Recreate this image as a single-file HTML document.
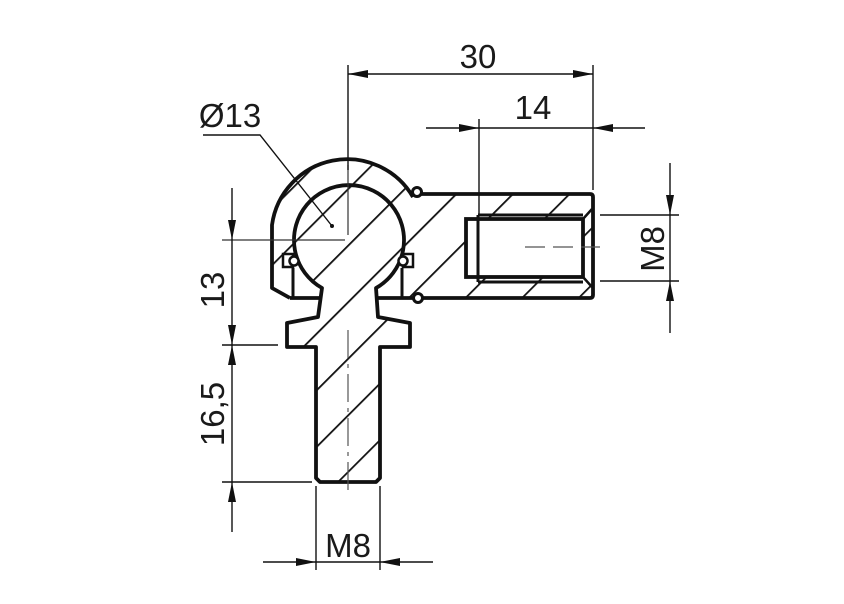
<!DOCTYPE html>
<html><head><meta charset="utf-8"><style>
html,body{margin:0;padding:0;background:#fff}
svg{display:block}
text{font-family:"Liberation Sans",sans-serif;fill:#1a1a1a}
</style></head><body>
<svg width="844" height="604" viewBox="0 0 844 604" xmlns="http://www.w3.org/2000/svg">
<defs>
<pattern id="h" patternUnits="userSpaceOnUse" width="40" height="40" patternTransform="rotate(45)">
<rect x="19" y="0" width="1.8" height="40" fill="#111"/>
</pattern>
<marker id="a" viewBox="0 0 20 8" refX="20" refY="4" markerWidth="20" markerHeight="8" markerUnits="userSpaceOnUse" orient="auto">
<path d="M0,0 L20,4 L0,8 Z" fill="#111"/>
</marker>
</defs>

<path d="M290,298 L272,288 L272,225 A76,76 0 0 1 413,198 L421,194 L593,194 L593,298 L402,298 L402,268 L292,268 L292,298 Z" fill="url(#h)" stroke="none"/>
<path d="M290,298 L272,288 L272,225 A76,76 0 0 1 413,197" fill="none" stroke="#111" stroke-width="3.8" stroke-linejoin="round"/>
<path d="M421,194 L590,194 Q593,194 593,197 L593,295 Q593,298 590,298 L423,298" fill="none" stroke="#111" stroke-width="3.8"/>
<line x1="290" y1="298" x2="320" y2="298" stroke="#111" stroke-width="3.8"/>
<line x1="378" y1="298" x2="413" y2="298" stroke="#111" stroke-width="3.8"/>
<line x1="293" y1="268" x2="293" y2="298" stroke="#111" stroke-width="3"/>
<line x1="402" y1="268" x2="402" y2="298" stroke="#111" stroke-width="3"/>
<circle cx="417" cy="192" r="4.5" fill="#fff" stroke="#111" stroke-width="3"/>
<circle cx="418" cy="298" r="4.5" fill="#fff" stroke="#111" stroke-width="3"/>
<rect x="283" y="254" width="10" height="13" fill="#fff" stroke="#111" stroke-width="2.5"/>
<rect x="403" y="254" width="10" height="13" fill="#fff" stroke="#111" stroke-width="2.5"/>

<rect x="466" y="219" width="117" height="58" fill="#fff" stroke="#111" stroke-width="3.8"/>
<line x1="478" y1="215" x2="583" y2="215" stroke="#111" stroke-width="3"/>
<line x1="478" y1="282" x2="583" y2="282" stroke="#111" stroke-width="3"/>
<line x1="478" y1="215" x2="478" y2="282" stroke="#111" stroke-width="3"/>
<line x1="583" y1="219" x2="592" y2="209" stroke="#111" stroke-width="2.5"/>
<line x1="583" y1="277" x2="592" y2="287" stroke="#111" stroke-width="2.5"/>

<path d="M322,288 A55,55 0 1 1 376,288 L378,317 L410,323 L410,347 L380,347 L380,478 L376,482 L320,482 L316,478 L316,347 L287,347 L287,323 L318,317 Z" fill="#fff" stroke="none"/>
<path d="M322,288 A55,55 0 1 1 376,288 L378,317 L410,323 L410,347 L380,347 L380,478 L376,482 L320,482 L316,478 L316,347 L287,347 L287,323 L318,317 Z" fill="url(#h)" stroke="#111" stroke-width="3.8" stroke-linejoin="round"/>
<circle cx="294" cy="261" r="4.5" fill="#fff" stroke="#111" stroke-width="2.5"/>
<circle cx="403" cy="261" r="4.5" fill="#fff" stroke="#111" stroke-width="2.5"/>
<circle cx="332" cy="226" r="2" fill="#111"/>

<line x1="348" y1="330" x2="348" y2="495" stroke="#555" stroke-width="1.2" stroke-dasharray="28,6,4,6"/>
<line x1="222" y1="240" x2="345" y2="240" stroke="#333" stroke-width="1.2"/>
<line x1="348" y1="165" x2="348" y2="235" stroke="#333" stroke-width="1.2"/>
<line x1="525" y1="247" x2="600" y2="247" stroke="#555" stroke-width="1.2" stroke-dasharray="20,8"/>

<g stroke="#111" stroke-width="1.4" fill="none">
<line x1="348" y1="65" x2="348" y2="170"/>
<line x1="593" y1="65" x2="593" y2="190"/>
<line x1="368" y1="74" x2="348" y2="74" marker-end="url(#a)"/>
<line x1="573" y1="74" x2="593" y2="74" marker-end="url(#a)"/>
<line x1="360" y1="74" x2="580" y2="74"/>
<line x1="479" y1="119" x2="479" y2="215"/>
<line x1="426" y1="128" x2="479" y2="128" marker-end="url(#a)"/>
<line x1="645" y1="128" x2="593" y2="128" marker-end="url(#a)"/>
<line x1="479" y1="128" x2="593" y2="128"/>
<line x1="600" y1="215" x2="679" y2="215"/>
<line x1="600" y1="281" x2="679" y2="281"/>
<line x1="670" y1="163" x2="670" y2="215" marker-end="url(#a)"/>
<line x1="670" y1="333" x2="670" y2="281" marker-end="url(#a)"/>
<line x1="670" y1="215" x2="670" y2="281"/>
<line x1="232" y1="188" x2="232" y2="240" marker-end="url(#a)"/>
<line x1="232" y1="240" x2="232" y2="345" marker-end="url(#a)"/>
<line x1="222" y1="345" x2="278" y2="345"/>
<line x1="232" y1="482" x2="232" y2="345" marker-end="url(#a)"/>
<line x1="232" y1="532" x2="232" y2="482" marker-end="url(#a)"/>
<line x1="222" y1="482" x2="312" y2="482"/>
<line x1="316" y1="486" x2="316" y2="570"/>
<line x1="380" y1="486" x2="380" y2="570"/>
<line x1="263" y1="562" x2="316" y2="562" marker-end="url(#a)"/>
<line x1="433" y1="562" x2="380" y2="562" marker-end="url(#a)"/>
<line x1="316" y1="562" x2="380" y2="562"/>
<polyline points="203,135 260,135 332,226"/>
</g>

<text x="478" y="68" font-size="33" text-anchor="middle">30</text>
<text x="533" y="119" font-size="33" text-anchor="middle">14</text>
<text x="230" y="127" font-size="33" text-anchor="middle">Ø13</text>
<text x="348" y="557" font-size="33" text-anchor="middle">M8</text>
<text transform="translate(664,249) rotate(-90)" font-size="33" text-anchor="middle">M8</text>
<text transform="translate(224,290) rotate(-90)" font-size="33" text-anchor="middle">13</text>
<text transform="translate(224,414) rotate(-90)" font-size="33" text-anchor="middle">16,5</text>
</svg>
</body></html>
